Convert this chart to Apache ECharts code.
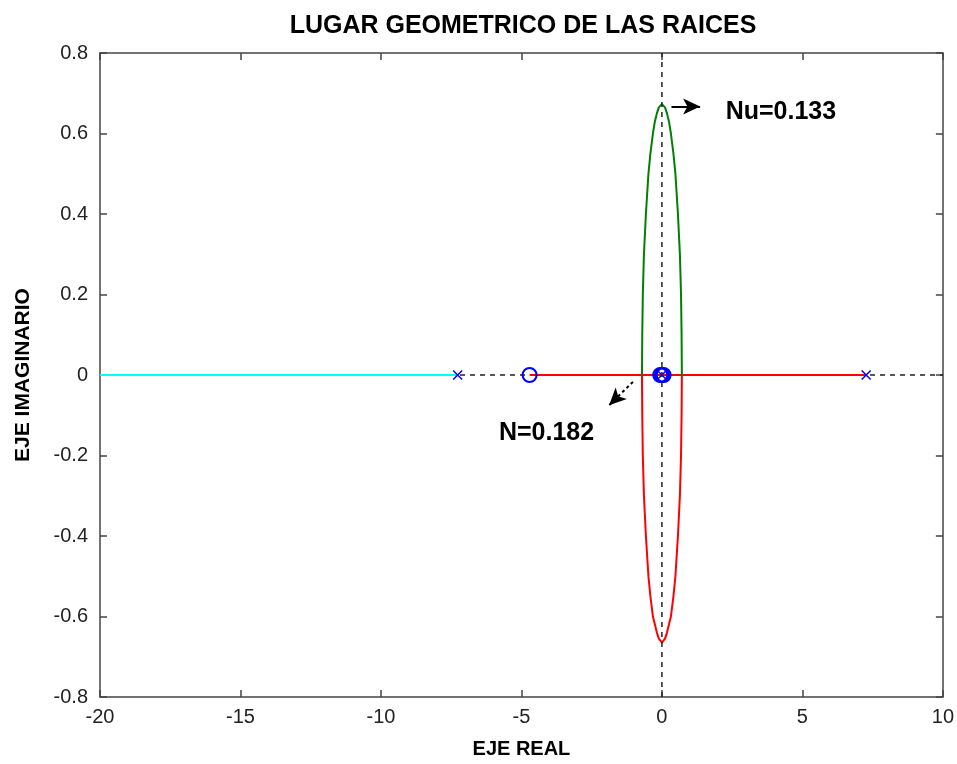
<!DOCTYPE html>
<html>
<head>
<meta charset="utf-8">
<script src="https://cdn.jsdelivr.net/npm/echarts@6/dist/echarts.min.js"></script>
<style>
  html, body { margin: 0; padding: 0; background: #fff; }
  #chart { width: 957px; height: 764px; }
</style>
</head>
<body>
<div id="chart"></div>
<script>
// Ticks
const xTicks = [-20, -15, -10, -5, 0, 5, 10];
const yTickLabels = ['-0.8', '-0.6', '-0.4', '-0.2', '0', '0.2', '0.4', '0.6', '0.8'];

// Poles (x) and zeros (o) of the open-loop system
const poles = [[-7.27, 0], [0, 0], [7.27, 0]];
const zeros = [[-4.71, 0], [-0.06, 0], [0, 0], [0.06, 0]];

// Root locus branches
const branchCyan = [[-20, 0], [-7.27, 0]];
const branchRedReal = [[-4.71, 0], [7.27, 0]];
const branchGreen = [
  [-0.71, 0], [-0.70, 0.1], [-0.68, 0.2], [-0.64, 0.3], [-0.57, 0.4],
  [-0.48, 0.5], [-0.41, 0.55], [-0.32, 0.6], [-0.25, 0.63], [-0.18, 0.65],
  [-0.11, 0.665], [0, 0.673],
  [0.11, 0.665], [0.18, 0.65], [0.25, 0.63], [0.32, 0.6], [0.41, 0.55],
  [0.48, 0.5], [0.57, 0.4], [0.64, 0.3], [0.68, 0.2], [0.70, 0.1], [0.71, 0]
];
const branchRedLow = [
  [-0.71, 0], [-0.70, -0.1], [-0.68, -0.2], [-0.64, -0.3], [-0.57, -0.4],
  [-0.48, -0.5], [-0.41, -0.55], [-0.32, -0.6], [-0.25, -0.62], [-0.18, -0.64],
  [-0.11, -0.655], [0, -0.665],
  [0.11, -0.655], [0.18, -0.64], [0.25, -0.62], [0.32, -0.6], [0.41, -0.55],
  [0.48, -0.5], [0.57, -0.4], [0.64, -0.3], [0.68, -0.2], [0.70, -0.1], [0.71, 0]
];

// Reference axes through the origin
const realAxisLine = [[-20, 0], [10, 0]];
const imagAxisLine = [[0, -0.8], [0, 0.8]];

// Annotations: arrows and their labels
const arrowNu = [[0.34, 0.667], [1.36, 0.667]];
const arrowN = [[-1.03, -0.017], [-1.88, -0.075]];
const notes = [
  { name: 'Nu=0.133', value: [2.27, 0.652] },
  { name: 'N=0.182', value: [-5.8, -0.145] }
];

const FONT = 'Liberation Sans';
const chart = echarts.init(document.getElementById('chart'), null, { renderer: 'canvas' });

const yLabel = v => {
  const i = Math.round((v + 0.8) / 0.2);
  return yTickLabels[i] !== undefined ? yTickLabels[i] : '';
};

const axisLineStyle = { color: '#444', width: 1.5 };
const tickStyle = { show: true, inside: true, length: 7, lineStyle: { color: '#444', width: 1.5 } };

const plainLine = (data, color, width, z, type) => ({
  type: 'line', data, showSymbol: false, symbol: 'none', z,
  lineStyle: { color, width, type: type || 'solid' },
  silent: true, animation: false
});

chart.setOption({
  backgroundColor: '#fff',
  animation: false,
  title: {
    text: 'LUGAR GEOMETRICO DE LAS RAICES',
    left: 518, top: 9, textAlign: 'center',
    textStyle: { fontFamily: FONT, fontWeight: 'bold', fontSize: 25, color: '#000' }
  },
  grid: { left: 100, top: 53, right: 13, bottom: 67 },
  xAxis: [
    {
      type: 'value', min: -20, max: 10, interval: 5, position: 'bottom',
      name: 'EJE REAL', nameLocation: 'middle', nameGap: 42,
      nameTextStyle: { fontFamily: FONT, fontWeight: 'bold', fontSize: 20, color: '#000' },
      axisLine: { show: true, onZero: false, lineStyle: axisLineStyle },
      axisTick: tickStyle,
      axisLabel: {
        fontFamily: FONT, fontSize: 20, color: '#222', margin: 10,
        formatter: v => (xTicks.indexOf(v) >= 0 ? String(v) : '')
      },
      splitLine: { show: false }
    },
    {
      type: 'value', min: -20, max: 10, interval: 5, position: 'top',
      axisLine: { show: true, onZero: false, lineStyle: axisLineStyle },
      axisTick: tickStyle, axisLabel: { show: false }, splitLine: { show: false }
    }
  ],
  yAxis: [
    {
      type: 'value', min: -0.8, max: 0.8, interval: 0.2, position: 'left',
      name: 'EJE IMAGINARIO', nameLocation: 'middle', nameGap: 66, nameRotate: 90,
      nameTextStyle: { fontFamily: FONT, fontWeight: 'bold', fontSize: 21, color: '#000' },
      axisLine: { show: true, onZero: false, lineStyle: axisLineStyle },
      axisTick: tickStyle,
      axisLabel: { fontFamily: FONT, fontSize: 20, color: '#222', margin: 12, formatter: yLabel },
      splitLine: { show: false }
    },
    {
      type: 'value', min: -0.8, max: 0.8, interval: 0.2, position: 'right',
      axisLine: { show: true, onZero: false, lineStyle: axisLineStyle },
      axisTick: tickStyle, axisLabel: { show: false }, splitLine: { show: false }
    }
  ],
  series: [
    plainLine(realAxisLine, '#222', 1.5, 1, [5, 5]),
    plainLine(branchCyan, '#00ffff', 2, 2),
    plainLine(branchRedReal, '#ff0000', 2, 2),
    plainLine(branchGreen, '#008000', 2, 2),
    plainLine(branchRedLow, '#ff0000', 2, 2),
    {
      type: 'scatter', data: zeros, symbol: 'circle', symbolSize: 14, z: 3,
      itemStyle: { color: 'rgba(0,0,0,0)', borderColor: '#0000ff', borderWidth: 2, opacity: 1 },
      silent: true
    },
    {
      type: 'scatter', data: poles, symbol: 'path://M0,0L10,10M10,0L0,10', symbolSize: 9, z: 3,
      itemStyle: { color: 'none', borderColor: '#0000ff', borderWidth: 1.5, opacity: 1 },
      silent: true
    },
    plainLine(imagAxisLine, '#222', 1.5, 4, [5, 5]),
    {
      type: 'line', data: [], z: 5, silent: true,
      markLine: {
        silent: true, animation: false, symbol: ['none', 'arrow'], symbolSize: [12, 17],
        label: { show: false },
        data: [
          [{ coord: arrowNu[0], lineStyle: { color: '#000', width: 2, type: 'solid' } }, { coord: arrowNu[1] }],
          [{ coord: arrowN[0], lineStyle: { color: '#000', width: 2, type: [3, 3] } }, { coord: arrowN[1] }]
        ]
      }
    },
    {
      type: 'scatter', data: notes, symbolSize: 0, z: 6, silent: true,
      itemStyle: { opacity: 1 },
      label: {
        show: true, position: 'inside', align: 'left', verticalAlign: 'middle',
        formatter: p => p.name,
        fontFamily: FONT, fontWeight: 'bold', fontSize: 25, color: '#000',
        textBorderWidth: 0
      }
    }
  ]
});
</script>
</body>
</html>
